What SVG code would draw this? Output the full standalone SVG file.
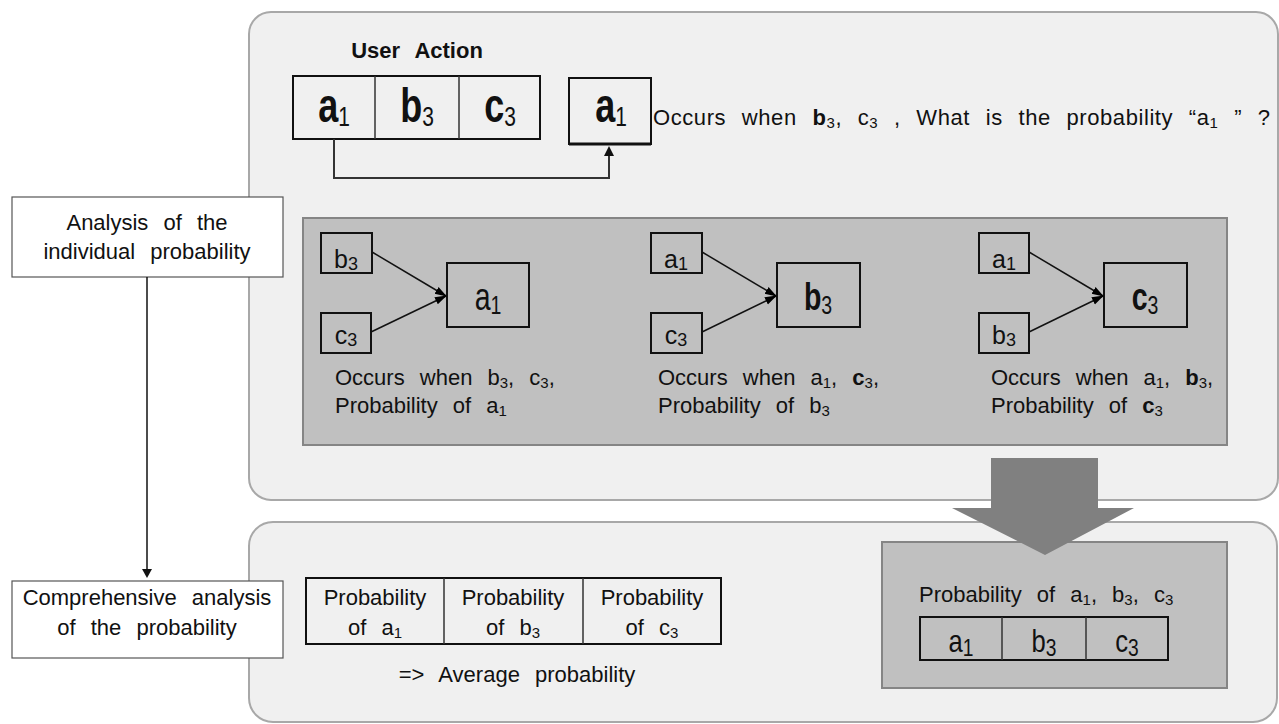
<svg xmlns="http://www.w3.org/2000/svg" width="1279" height="724" viewBox="0 0 1279 724">
<defs>
<style>
.panel{fill:#f0f0f0;stroke:#a8a8a8;stroke-width:2}
.gbox{fill:#c0c0c0;stroke:#858585;stroke-width:2}
.cell{fill:#f0f0f0;stroke:#111;stroke-width:2}
.div{stroke:#333;stroke-width:1.5}
.sbox{fill:#c0c0c0;stroke:#111;stroke-width:2}
.lbl{fill:#fff;stroke:#555;stroke-width:1.2}
text{font-family:'Liberation Sans',Arial,sans-serif;fill:#111}
.t{font-size:22px;word-spacing:9px}
.sub{font-size:15px}
.b{font-weight:bold}
.big{font-size:48px;font-weight:bold}
.bigsub{font-size:28px;font-weight:normal}
.mid{font-size:38px}
.midsub{font-size:26px;font-weight:normal}
.sm{font-size:25px}
.smsub{font-size:18px}
.tb{font-size:32px}
.tbsub{font-size:24px}
.line{stroke:#111;stroke-width:1.5;fill:none}
</style>
<marker id="head" markerWidth="12" markerHeight="10" refX="11" refY="5" orient="auto" markerUnits="userSpaceOnUse"><path d="M0,1 L12,5 L0,9 z" fill="#000"/></marker>
</defs>

<g id="panel-top"><rect class="panel" x="249" y="12" width="1029" height="488" rx="22"/></g>
<g id="panel-bottom"><rect class="panel" x="249" y="522" width="1028" height="200" rx="24"/></g>

<g id="label-individual">
<rect class="lbl" x="12" y="197" width="271" height="80"/>
<text class="t" x="147" y="230" text-anchor="middle">Analysis of the</text>
<text class="t" x="147" y="259" text-anchor="middle">individual probability</text>
</g>
<g id="label-comprehensive">
<rect class="lbl" x="12" y="581" width="271" height="77"/>
<text class="t" x="147" y="605" text-anchor="middle">Comprehensive analysis</text>
<text class="t" x="147" y="635" text-anchor="middle">of the probability</text>
</g>

<g id="user-action">
<text class="t b" x="417" y="58" text-anchor="middle">User Action</text>
<rect class="cell" x="293" y="76" width="247" height="63"/>
<line class="div" x1="375" y1="76" x2="375" y2="139"/>
<line class="div" x1="459" y1="76" x2="459" y2="139"/>
<text class="big" transform="translate(334,122) scale(0.75,1)" text-anchor="middle">a<tspan class="bigsub" dy="4">1</tspan></text>
<text class="big" transform="translate(417,122) scale(0.75,1)" text-anchor="middle">b<tspan class="bigsub" dy="4">3</tspan></text>
<text class="big" transform="translate(500,122) scale(0.75,1)" text-anchor="middle">c<tspan class="bigsub" dy="4">3</tspan></text>
</g>

<g id="target-a1">
<rect class="cell" x="569" y="78" width="82" height="66"/>
<line x1="569" y1="144" x2="651" y2="144" stroke="#111" stroke-width="3"/>
<text class="big" transform="translate(611,122) scale(0.75,1)" text-anchor="middle">a<tspan class="bigsub" dy="4">1</tspan></text>
</g>

<g id="question">
<text class="t" x="653" y="125" textLength="617" lengthAdjust="spacing">Occurs when <tspan class="b">b</tspan><tspan class="sub" dy="3">3</tspan><tspan dy="-3">, c</tspan><tspan class="sub" dy="3">3</tspan><tspan dy="-3"> , What is the probability  “a</tspan><tspan class="sub" dy="3">1</tspan><tspan dy="-3">  ” ?</tspan></text>
</g>

<g id="individual-box">
<rect class="gbox" x="303" y="218" width="924" height="227"/>
</g>

<g id="group-a1">
<rect class="sbox" x="321" y="233" width="51" height="40"/>
<text class="sm" x="346" y="268" text-anchor="middle">b<tspan class="smsub" dy="2">3</tspan></text>
<rect class="sbox" x="321" y="313" width="50" height="40"/>
<text class="sm" x="346" y="344" text-anchor="middle">c<tspan class="smsub" dy="2">3</tspan></text>
<rect class="sbox" x="447" y="263" width="82" height="64"/>
<text class="mid" transform="translate(488,310) scale(0.75,1)" text-anchor="middle">a<tspan class="midsub" dy="4">1</tspan></text>
<text class="t" x="335" y="385">Occurs when b<tspan class="sub" dy="3">3</tspan><tspan dy="-3">, c</tspan><tspan class="sub" dy="3">3</tspan><tspan dy="-3">,</tspan></text>
<text class="t" x="335" y="413">Probability of a<tspan class="sub" dy="3">1</tspan></text>
</g>

<g id="group-b3">
<rect class="sbox" x="651" y="233" width="51" height="40"/>
<text class="sm" x="676" y="268" text-anchor="middle">a<tspan class="smsub" dy="2">1</tspan></text>
<rect class="sbox" x="651" y="313" width="51" height="40"/>
<text class="sm" x="676" y="344" text-anchor="middle">c<tspan class="smsub" dy="2">3</tspan></text>
<rect class="sbox" x="777" y="263" width="83" height="64"/>
<text class="mid b" transform="translate(818,310) scale(0.75,1)" text-anchor="middle">b<tspan class="midsub" dy="4">3</tspan></text>
<text class="t" x="658" y="385">Occurs when a<tspan class="sub" dy="3">1</tspan><tspan dy="-3">, </tspan><tspan class="b">c</tspan><tspan class="sub" dy="3">3</tspan><tspan dy="-3">,</tspan></text>
<text class="t" x="658" y="413">Probability of b<tspan class="sub" dy="3">3</tspan></text>
</g>

<g id="group-c3">
<rect class="sbox" x="979" y="233" width="50" height="40"/>
<text class="sm" x="1004" y="268" text-anchor="middle">a<tspan class="smsub" dy="2">1</tspan></text>
<rect class="sbox" x="979" y="313" width="50" height="40"/>
<text class="sm" x="1004" y="344" text-anchor="middle">b<tspan class="smsub" dy="2">3</tspan></text>
<rect class="sbox" x="1104" y="263" width="83" height="64"/>
<text class="mid b" transform="translate(1145,310) scale(0.75,1)" text-anchor="middle">c<tspan class="midsub" dy="4">3</tspan></text>
<text class="t" x="991" y="385">Occurs when a<tspan class="sub" dy="3">1</tspan><tspan dy="-3">, </tspan><tspan class="b">b</tspan><tspan class="sub" dy="3">3</tspan><tspan dy="-3">,</tspan></text>
<text class="t" x="991" y="413">Probability of <tspan class="b">c</tspan><tspan class="sub" dy="3">3</tspan></text>
</g>

<g id="probability-table">
<rect class="cell" x="306" y="578" width="415" height="66"/>
<line class="div" x1="444" y1="578" x2="444" y2="644"/>
<line class="div" x1="583" y1="578" x2="583" y2="644"/>
<text class="t" x="375" y="605" text-anchor="middle">Probability</text>
<text class="t" x="375" y="635" text-anchor="middle">of a<tspan class="sub" dy="3">1</tspan></text>
<text class="t" x="513" y="605" text-anchor="middle">Probability</text>
<text class="t" x="513" y="635" text-anchor="middle">of b<tspan class="sub" dy="3">3</tspan></text>
<text class="t" x="652" y="605" text-anchor="middle">Probability</text>
<text class="t" x="652" y="635" text-anchor="middle">of c<tspan class="sub" dy="3">3</tspan></text>
<text class="t" x="517" y="682" text-anchor="middle">=&gt; Average probability</text>
</g>

<g id="connectors">
<polyline points="334,139 334,178 609,178 609,155" fill="none" stroke="#333" stroke-width="2"/>
<polygon points="604,156 614,156 609,146" fill="#111"/>
<line x1="147" y1="277" x2="147" y2="570" stroke="#111" stroke-width="1.5"/>
<polygon points="142,569 152,569 147,578" fill="#111"/>
<line class="line" x1="372" y1="252" x2="446" y2="296" marker-end="url(#head)"/>
<line class="line" x1="371" y1="332" x2="446" y2="296" marker-end="url(#head)"/>
<line class="line" x1="702" y1="252" x2="776" y2="296" marker-end="url(#head)"/>
<line class="line" x1="702" y1="332" x2="776" y2="296" marker-end="url(#head)"/>
<line class="line" x1="1029" y1="252" x2="1103" y2="296" marker-end="url(#head)"/>
<line class="line" x1="1029" y1="332" x2="1103" y2="296" marker-end="url(#head)"/>
</g>

<g id="combined-box">
<rect class="gbox" x="882" y="542" width="345" height="146"/>
<text class="t" x="919" y="602">Probability of a<tspan class="sub" dy="3">1</tspan><tspan dy="-3">, b</tspan><tspan class="sub" dy="3">3</tspan><tspan dy="-3">, c</tspan><tspan class="sub" dy="3">3</tspan></text>
<rect class="sbox" x="920" y="617" width="248" height="43"/>
<line class="div" x1="1002" y1="617" x2="1002" y2="660"/>
<line class="div" x1="1086" y1="617" x2="1086" y2="660"/>
<text class="tb" transform="translate(961,652) scale(0.8,1)" text-anchor="middle">a<tspan class="tbsub" dy="4">1</tspan></text>
<text class="tb" transform="translate(1044,652) scale(0.8,1)" text-anchor="middle">b<tspan class="tbsub" dy="4">3</tspan></text>
<text class="tb" transform="translate(1127,652) scale(0.8,1)" text-anchor="middle">c<tspan class="tbsub" dy="4">3</tspan></text>
</g>

<g id="block-arrow">
<polygon points="991,458 1098,458 1098,508 1134,508 1045,555 952,508 991,508" fill="#808080"/>
</g>
</svg>
